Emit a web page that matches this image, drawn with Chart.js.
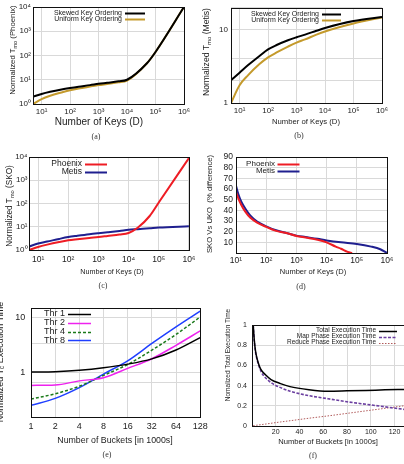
<!DOCTYPE html>
<html>
<head>
<meta charset="utf-8">
<title>Key ordering and bucket count</title>
<script src="https://cdn.jsdelivr.net/npm/chart.js@4.4.1/dist/chart.umd.min.js"></script>
<style>
  html, body { margin: 0; padding: 0; background: #fff; }
  body { position: relative; width: 404px; height: 464px; overflow: hidden; }
  canvas { position: absolute; }
  .lbl { position: absolute; white-space: nowrap; line-height: 1; color: #222;
         font-family: "Liberation Sans", Arial, sans-serif; transform: translate(-50%, -50%); }
  .rot { transform: translate(-50%, -50%) rotate(-90deg); }
  .cap { font-family: "Liberation Serif", "Times New Roman", serif; color: #333; font-size: 8px; }
  sub { font-size: 70%; line-height: 0; vertical-align: -0.3em; }
</style>
</head>
<body>
<canvas id="chart-a" width="200" height="130" style="left:0px;top:0px"></canvas>
<canvas id="chart-b" width="204" height="130" style="left:198px;top:0px"></canvas>
<canvas id="chart-c" width="200" height="135" style="left:0px;top:145px"></canvas>
<canvas id="chart-d" width="204" height="135" style="left:198px;top:145px"></canvas>
<canvas id="chart-e" width="220" height="155" style="left:-8px;top:295px"></canvas>
<canvas id="chart-f" width="202" height="150" style="left:202px;top:300px"></canvas>

<div class="lbl" style="left:99px;top:122px;font-size:10px">Number of Keys (D)</div>
<div class="lbl rot" style="left:13px;top:50px;font-size:7.8px">Normalized T<sub>mo</sub> (Phoenix)</div>
<div class="lbl cap" style="left:96px;top:137px">(a)</div>

<div class="lbl" style="left:306px;top:122px;font-size:7.7px">Number of Keys (D)</div>
<div class="lbl rot" style="left:206px;top:52px;font-size:8.6px">Normalized T<sub>mo</sub> (Metis)</div>
<div class="lbl cap" style="left:299px;top:136px">(b)</div>

<div class="lbl" style="left:112px;top:272px;font-size:7.2px">Number of Keys (D)</div>
<div class="lbl rot" style="left:10px;top:206px;font-size:8.2px">Normalized T<sub>mo</sub> (SKO)</div>
<div class="lbl cap" style="left:103px;top:286px">(c)</div>

<div class="lbl" style="left:313px;top:272px;font-size:7.5px">Number of Keys (D)</div>
<div class="lbl rot" style="left:210px;top:204px;font-size:7.7px">SKO Vs UKO&nbsp; (% difference)</div>
<div class="lbl cap" style="left:301px;top:287px">(d)</div>

<div class="lbl" style="left:115px;top:440px;font-size:8.8px">Number of Buckets [in 1000s]</div>
<div class="lbl rot" style="left:0px;top:362px;font-size:9px">Normalized T<sub>c</sub> Execution Time</div>
<div class="lbl cap" style="left:107px;top:455px">(e)</div>

<div class="lbl" style="left:328px;top:442px;font-size:7.6px">Number of Buckets [in 1000s]</div>
<div class="lbl rot" style="left:228px;top:355px;font-size:6.5px">Nomalized Total Execution Time</div>
<div class="lbl cap" style="left:313px;top:456px">(f)</div>

<script>
// (a) Phoenix, normalized T_mo
const keysPhx = [5, 10, 20, 50, 100, 200, 500, 1000, 2000, 5000, 10000, 50000, 100000, 1000000];
const phxSkewed  = [2.0, 2.6, 3.2, 4.0, 4.6, 5.2, 6.0, 6.8, 7.5, 8.6, 10, 48, 140, 10000];
const phxUniform = [1.0, 1.6, 2.2, 3.0, 3.7, 4.3, 5.2, 6.0, 6.7, 7.8, 9.3, 48, 140, 10000];

// (b) Metis, normalized T_mo
const keysMetis = [5, 10, 20, 50, 100, 200, 500, 1000, 2000, 5000, 10000, 100000, 1000000];
const metisSkewed  = [2.05, 2.6, 3.3, 4.4, 5.4, 6.2, 7.2, 7.9, 8.6, 9.7, 10.6, 13.2, 15];
const metisUniform = [1.0, 1.75, 2.4, 3.4, 4.2, 4.9, 5.9, 6.7, 7.4, 8.6, 9.5, 12.2, 14.8];

// (c) SKO
const keysSko = [5, 10, 20, 50, 100, 200, 500, 1000, 2000, 5000, 10000, 20000, 50000, 100000, 1000000];
const skoPhoenix = [1.0, 1.35, 1.7, 2.2, 2.6, 2.9, 3.3, 3.6, 4.0, 4.6, 5.4, 9, 29, 110, 9000];
const skoMetis   = [1.4, 1.9, 2.3, 3.0, 3.6, 4.1, 4.8, 5.3, 5.8, 6.6, 7.4, 7.9, 8.6, 9.2, 10.5];

// (d) SKO vs UKO, % difference
const keysDiffPhx = [10, 12, 15, 20, 30, 50, 100, 200, 500, 1000, 2000, 5000, 10000, 20000, 30000, 50000, 70000];
const diffPhoenix = [57, 51, 45, 39, 33, 28.5, 24.5, 21, 18.5, 16, 14.5, 12.5, 10, 6, 4, 1, 0];
const keysDiffMetis = [10, 12, 15, 20, 30, 50, 100, 200, 500, 1000, 2000, 5000, 10000, 30000, 100000, 300000, 600000, 1000000];
const diffMetis = [63, 55, 48, 42, 35, 29.5, 25, 21.5, 18.5, 16.3, 15, 13.3, 11.8, 10, 8.5, 6, 3.5, 0];

// (e) threads vs buckets
const buckets = [1, 2, 4, 8, 16, 32, 64, 128];
const thr1 = [1.0, 1.02, 1.08, 1.2, 1.4, 1.75, 2.55, 4.3];
const thr2 = [0.57, 0.58, 0.69, 0.79, 1.17, 1.76, 3.1, 5.7];
const thr4 = [0.32, 0.40, 0.55, 0.87, 1.38, 2.53, 4.9, 10.3];
const thr8 = [0.245, 0.33, 0.52, 0.92, 1.61, 3.35, 6.75, 13.1];

// (f) execution time breakdown
const bucketsK = [1, 2, 3, 4, 6, 8, 12, 16, 24, 32, 48, 64, 80, 96, 112, 128];
const totalTime  = [1.0, 0.84, 0.74, 0.68, 0.6, 0.55, 0.5, 0.46, 0.42, 0.39, 0.36, 0.345, 0.348, 0.352, 0.358, 0.362];
const mapTime    = [1.0, 0.83, 0.73, 0.67, 0.59, 0.53, 0.47, 0.43, 0.38, 0.345, 0.3, 0.27, 0.24, 0.215, 0.19, 0.165];
const reduceTime = [0.003, 0.005, 0.007, 0.008, 0.011, 0.014, 0.02, 0.027, 0.04, 0.052, 0.077, 0.1, 0.125, 0.15, 0.175, 0.2];

// tick positions
const keyDecades = [10, 100, 1000, 10000, 100000, 1000000];
const tmoDecades = [1, 10, 100, 1000, 10000];
const metisTicks = [1, 2, 4, 10, 20];
const diffTicks = [0, 10, 20, 30, 40, 50, 60, 70, 80, 90];
const bucketTicks = [1, 2, 4, 8, 16, 32, 64, 128];
const threadTicks = [0.64, 1, 3.4, 10];
const bucketKTicks = [20, 40, 60, 80, 100, 120];
const fractionTicks = [0, 0.2, 0.4, 0.6, 0.8, 1];

const gridColor = '#d9d9d9';
const gold = '#c49a2c';
const red = '#ee1c24';
const navy = '#1f1f8f';

Chart.defaults.font.family = '"Liberation Sans", Arial, Helvetica, sans-serif';
Chart.defaults.color = '#222';
Chart.defaults.animation = false;
Chart.defaults.plugins.legend.display = false;
Chart.defaults.plugins.tooltip.enabled = false;
Chart.defaults.elements.point.radius = 0;
Chart.defaults.elements.line.cubicInterpolationMode = 'monotone';

const sup = ['⁰', '¹', '²', '³', '⁴', '⁵', '⁶'];
const powerOfTen = v => '10' + sup[Math.round(Math.log10(v))];
const points = (xs, ys) => xs.map((x, i) => ({ x, y: ys[i] }));

// black box round the plot area, like gnuplot's border
const framePlugin = {
    id: 'frame',
    afterDatasetsDraw(chart) {
        const { ctx, chartArea: a } = chart;
        ctx.save();
        ctx.strokeStyle = '#111';
        ctx.lineWidth = 1;
        ctx.strokeRect(Math.round(a.left) + 0.5, Math.round(a.top) + 0.5,
            Math.round(a.right - a.left), Math.round(a.bottom - a.top));
        ctx.restore();
    }
};

// gnuplot style key: right aligned text, then a line sample
const keyPlugin = {
    id: 'key',
    afterDraw(chart, args, o) {
        if (o.x === undefined) return;
        const { ctx, chartArea: a } = chart;
        ctx.save();
        ctx.font = o.size + 'px "Liberation Sans", Arial, sans-serif';
        ctx.textBaseline = 'middle';
        ctx.textAlign = 'right';
        chart.data.datasets.forEach((ds, i) => {
            const y = a.top + o.y + i * o.row;
            const x = a.left + o.x;
            ctx.fillStyle = '#222';
            ctx.fillText(ds.label, x, y);
            ctx.beginPath();
            ctx.strokeStyle = ds.borderColor;
            ctx.lineWidth = ds.borderWidth;
            ctx.setLineDash(ds.borderDash || []);
            ctx.moveTo(x + o.gap, Math.round(y) + 0.5);
            ctx.lineTo(x + o.gap + o.len, Math.round(y) + 0.5);
            ctx.stroke();
        });
        ctx.restore();
    }
};

function axis(type, min, max, tickValues, size, fontSize, pad, format) {
    return {
        type, min, max,
        afterBuildTicks: s => { s.ticks = tickValues.map(value => ({ value })); },
        afterFit: s => { if (s.isHorizontal()) s.height = size; else s.width = size; },
        grid: { color: gridColor, drawTicks: false },
        border: { display: false },
        ticks: { font: { size: fontSize }, padding: pad, maxRotation: 0, autoSkip: false, color: '#222', callback: format }
    };
}

function makeChart(id, datasets, x, y, top, right, key) {
    return new Chart(document.getElementById(id), {
        type: 'line',
        data: { datasets },
        options: {
            responsive: false,
            devicePixelRatio: 1,
            layout: { autoPadding: false, padding: { top, right, bottom: 0, left: 0 } },
            scales: { x, y },
            plugins: { key }
        },
        plugins: [framePlugin, keyPlugin]
    });
}

makeChart('chart-a', [
    { label: 'Skewed Key Ordering', data: points(keysPhx, phxSkewed), borderColor: '#000', borderWidth: 2 },
    { label: 'Uniform Key Ordering', data: points(keysPhx, phxUniform), borderColor: gold, borderWidth: 2 }
],
    axis('logarithmic', 5, 1e6, keyDecades, 26, 8, 3, powerOfTen),
    axis('logarithmic', 1, 1e4, tmoDecades, 33, 8, 2, powerOfTen),
    7, 16, { x: 89, y: 5.7, row: 6.6, gap: 3, len: 20, size: 7 });

makeChart('chart-b', [
    { label: 'Skewed Key Ordering', data: points(keysMetis, metisSkewed), borderColor: '#000', borderWidth: 2 },
    { label: 'Uniform Key Ordering', data: points(keysMetis, metisUniform), borderColor: gold, borderWidth: 2 }
],
    axis('logarithmic', 5, 1e6, keyDecades, 27, 8, 3, powerOfTen),
    axis('logarithmic', 1, 20, metisTicks, 33, 8, 3, v => (v === 1 || v === 10) ? String(v) : ''),
    6, 20, { x: 88, y: 6, row: 6.6, gap: 3, len: 19, size: 7 });

makeChart('chart-c', [
    { label: 'Phoenix', data: points(keysSko, skoPhoenix), borderColor: red, borderWidth: 2 },
    { label: 'Metis', data: points(keysSko, skoMetis), borderColor: navy, borderWidth: 2 }
],
    axis('logarithmic', 5, 1e6, keyDecades, 30, 8.5, 4.6, powerOfTen),
    axis('logarithmic', 1, 1e4, tmoDecades, 29, 8, 1.5, powerOfTen),
    12, 11, { x: 53, y: 7, row: 7.7, gap: 3, len: 22, size: 8.5 });

makeChart('chart-d', [
    { label: 'Phoenix', data: points(keysDiffPhx, diffPhoenix), borderColor: red, borderWidth: 2 },
    { label: 'Metis', data: points(keysDiffMetis, diffMetis), borderColor: navy, borderWidth: 2 }
],
    axis('logarithmic', 10, 1e6, keyDecades, 27, 8.5, 2.2, powerOfTen),
    axis('linear', 0, 90, diffTicks, 38, 8.5, 3, v => v === 0 ? '' : String(v)),
    12, 15, { x: 39, y: 6.5, row: 7, gap: 2.5, len: 22, size: 8 });

makeChart('chart-e', [
    { label: 'Thr 1', data: points(buckets, thr1), borderColor: '#000', borderWidth: 1.5 },
    { label: 'Thr 2', data: points(buckets, thr2), borderColor: '#ee22ee', borderWidth: 1.5 },
    { label: 'Thr 4', data: points(buckets, thr4), borderColor: '#1a7a1a', borderWidth: 1.5, borderDash: [3, 2] },
    { label: 'Thr 8', data: points(buckets, thr8), borderColor: '#1f3fff', borderWidth: 1.5 }
],
    axis('logarithmic', 1, 128, bucketTicks, 33, 9, 4.3, v => String(v)),
    axis('logarithmic', 0.15, 15, threadTicks, 39, 9, 5.7, v => (v === 1 || v === 10) ? String(v) : ''),
    13, 9, { x: 34, y: 6, row: 8.8, gap: 3, len: 23, size: 9 });

makeChart('chart-f', [
    { label: 'Total Execution Time', data: points(bucketsK, totalTime), borderColor: '#000', borderWidth: 1.5 },
    { label: 'Map Phase Execution Time', data: points(bucketsK, mapTime), borderColor: '#6b3fa0', borderWidth: 1.6, borderDash: [3, 1.5] },
    { label: 'Reduce Phase Execution Time', data: points(bucketsK, reduceTime), borderColor: '#b05a5a', borderWidth: 1, borderDash: [1.5, 1.5] }
],
    axis('linear', 0, 128, bucketKTicks, 24, 7, 1.8, v => String(v)),
    axis('linear', 0, 1, fractionTicks, 50, 7, 5, v => String(v)),
    25, 0, { x: 124, y: 5.5, row: 6, gap: 3, len: 18, size: 6.5 });
</script>
</body>
</html>
